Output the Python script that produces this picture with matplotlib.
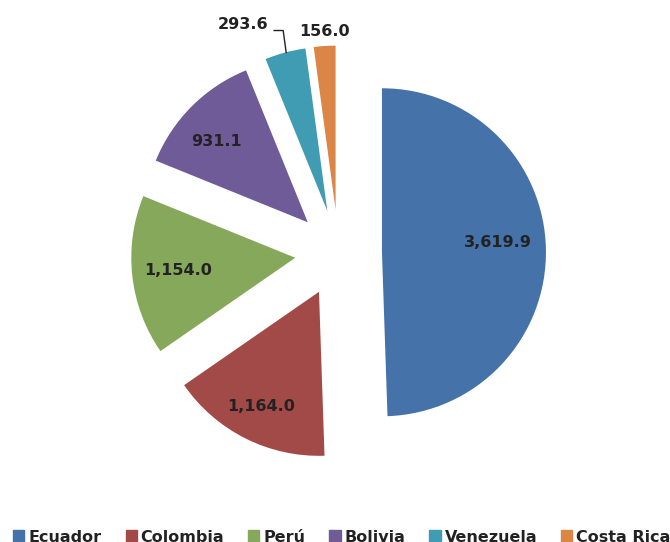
import matplotlib
matplotlib.use("Agg")
import matplotlib.pyplot as plt
import numpy as np

countries = ["Ecuador", "Colombia", "Perú", "Bolivia", "Venezuela", "Costa Rica"]
values = [3619.9, 1164.0, 1154.0, 931.1, 293.6, 156.0]
colors = ["#4472A9", "#A24A48", "#86A85B", "#6E5B97", "#409CB3", "#DB8546"]
value_labels = ["3,619.9", "1,164.0", "1,154.0", "931.1", "293.6", "156.0"]

W, H = 670, 542
fig = plt.figure(figsize=(W / 100, H / 100), dpi=100)
ax = fig.add_axes([0, 0, 1, 1])

R = 164
EXPLODE = 0.265 * R
wedges, _ = ax.pie(values, colors=colors, startangle=90, counterclock=False,
                   explode=[EXPLODE] * len(values), radius=R, center=(338.5, H - 253),
                   wedgeprops=dict(linewidth=0))
ax.set_xlim(0, W)
ax.set_ylim(0, H)
ax.set_aspect("equal")
ax.axis("off")

txt_kw = dict(fontsize=11.5, fontweight="bold", color="#222222",
              family="DejaVu Sans", ha="center", va="center")
# label distance (fraction of radius) and extra angle offset per slice
label_dist = [0.71, 0.78, 0.72, 0.743, 1.25, 1.089]
label_dang = [4, 0, 0, 3.2, 9.4, -0.3]
for i, w in enumerate(wedges):
    mid = np.deg2rad((w.theta1 + w.theta2) / 2 + label_dang[i])
    cx, cy = w.center
    x = cx + label_dist[i] * w.r * np.cos(mid)
    y = cy + label_dist[i] * w.r * np.sin(mid)
    ax.text(x, y, value_labels[i], **txt_kw)

# leader line for Venezuela
wv = wedges[4]
midv = np.deg2rad((wv.theta1 + wv.theta2) / 2)
ex = wv.center[0] + wv.r * np.cos(midv)
ey = wv.center[1] + wv.r * np.sin(midv)
ax.plot([ex + 1, ex - 2, ex - 11], [ey, ey + 22, ey + 22], color="#222222", lw=1)

handles = [plt.Rectangle((0, 0), 1, 1, color=c) for c in colors]
leg = fig.legend(handles, countries, loc="center", bbox_to_anchor=(342 / W, 5 / H),
                 ncol=6, frameon=False, handlelength=0.7, handleheight=0.7,
                 handletextpad=0.25, columnspacing=1.5, borderpad=0,
                 prop=dict(family="DejaVu Sans", weight="bold", size=11.5))
for t in leg.get_texts():
    t.set_color("#222222")

fig.savefig("out.png", dpi=100)
